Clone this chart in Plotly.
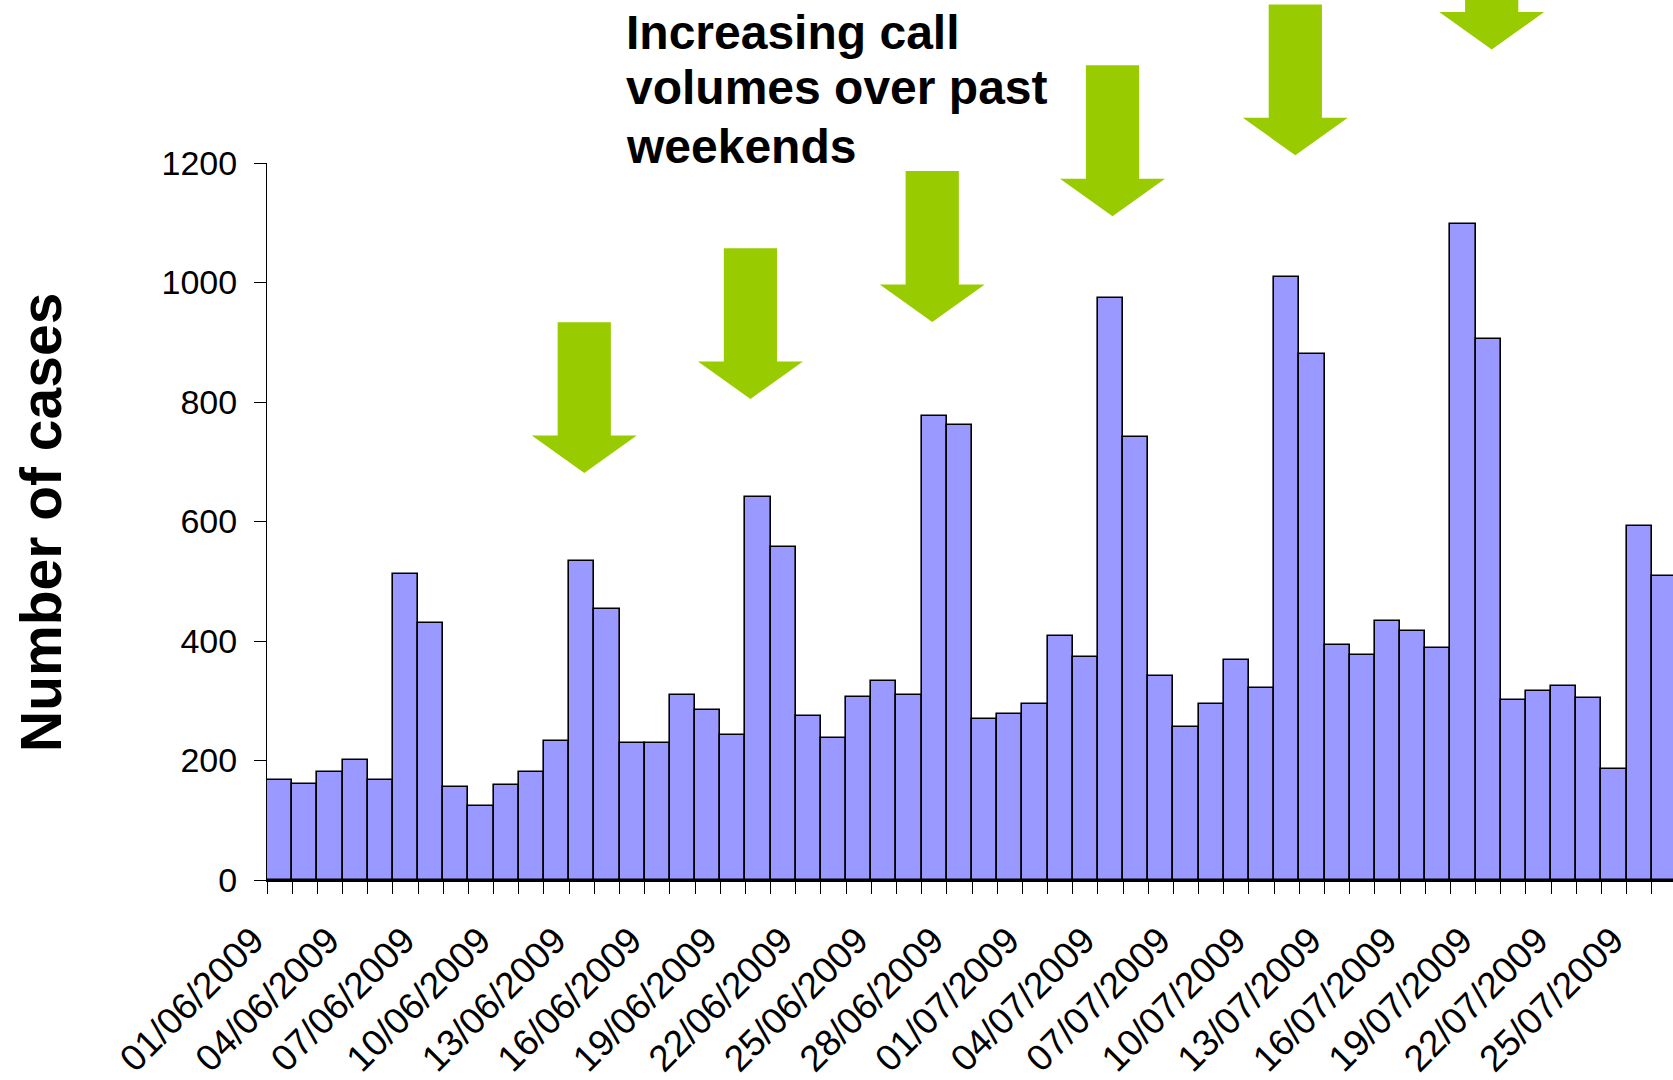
import pandas as pd
import plotly.graph_objects as go

# ---------------- data ----------------
dates = pd.date_range("2009-06-01", periods=56, freq="D")
cases = [168, 161, 181, 201, 168, 512, 430, 156, 124, 159,
         181, 233, 534, 453, 229, 229, 310, 285, 242, 641,
         557, 274, 238, 306, 333, 310, 777, 761, 269, 278,
         294, 408, 373, 974, 742, 342, 256, 294, 369, 321,
         1010, 881, 393, 376, 433, 416, 388, 1098, 906, 301,
         317, 325, 305, 185, 592, 508]
y_ticks = [0, 200, 400, 600, 800, 1000, 1200]
y_title = "Number of cases"
note_lines = ["Increasing call", "volumes over past", "weekends"]

# weekend arrows: position (days from 01/06) and tip height (cases units)
arrow_day = [12.6, 19.2, 26.42, 33.58, 40.84, 48.64]
arrow_tip = [681, 805, 934, 1111, 1213, 1390]

DAY_MS = 86400000
x_start = pd.Timestamp("2009-06-01")
x_end = x_start + pd.Timedelta(days=55.84)
Y_MAX = 1200

fig = go.Figure()
fig.add_trace(go.Bar(
    x=dates, y=cases,
    xperiod=DAY_MS, xperiodalignment="middle",
    width=DAY_MS,
    marker=dict(color="#9999FF", line=dict(color="black", width=1.6)),
    showlegend=False,
))

# block arrows
base_ms = x_start.value // 10**6
shaft_hw, head_hw = 1.057, 2.085      # days
shaft_len, head_h = 189.6, 62.8       # cases units
for d, tip in zip(arrow_day, arrow_tip):
    pts = [
        (d - shaft_hw, tip + head_h + shaft_len),
        (d + shaft_hw, tip + head_h + shaft_len),
        (d + shaft_hw, tip + head_h),
        (d + head_hw, tip + head_h),
        (d, tip),
        (d - head_hw, tip + head_h),
        (d - shaft_hw, tip + head_h),
    ]
    path = "M " + " L ".join(f"{base_ms + px * DAY_MS:.0f},{py / Y_MAX:.5f}" for px, py in pts) + " Z"
    fig.add_shape(type="path", path=path, xref="x", yref="paper",
                  fillcolor="#99CC00", line=dict(width=0), layer="above")

FONT = "Liberation Sans, Arial, sans-serif"

note_y = [1.1827, 1.1053, 1.0232]
for txt, yy in zip(note_lines, note_y):
    fig.add_annotation(text=txt, xref="paper", yref="paper", x=0.2539, y=yy,
                       xanchor="left", yanchor="middle", showarrow=False,
                       font=dict(family=FONT, size=48, color="black", weight="bold"))

fig.add_annotation(text=y_title, xref="paper", yref="paper", x=-0.1607, y=0.498,
                   xanchor="center", yanchor="middle", textangle=-90, showarrow=False,
                   font=dict(family=FONT, size=57, color="black", weight="bold"))

fig.update_layout(
    width=1673, height=1080,
    margin=dict(l=267, r=0, t=163, b=200),
    paper_bgcolor="white", plot_bgcolor="white",
    bargap=0,
    font=dict(family=FONT, color="black"),
    xaxis=dict(
        type="date", range=[x_start, x_end],
        tick0="2009-06-01", dtick=3 * DAY_MS, tickformat="%d/%m/%Y",
        tickangle=-45, ticks="outside", ticklen=12, tickcolor="black", tickwidth=1,
        tickfont=dict(family=FONT, size=37, color="black"),
        ticklabelshift=-14, ticklabelstandoff=10,
        showline=True, linecolor="black", linewidth=1.5,
        showgrid=False, zeroline=False,
        minor=dict(dtick=DAY_MS, tick0="2009-06-01", ticks="outside", ticklen=12,
                   tickcolor="black", tickwidth=1, showgrid=False),
    ),
    yaxis=dict(
        range=[0, Y_MAX], tickvals=y_ticks,
        ticks="outside", ticklen=12, tickcolor="black", tickwidth=1,
        tickfont=dict(family=FONT, size=34, color="black"),
        ticklabelstandoff=10,
        showline=True, linecolor="black", linewidth=1,
        showgrid=False, zeroline=False,
    ),
)

fig.write_html("out.html", config={"displayModeBar": False},
               post_script="document.body.style.margin='0';document.body.style.overflow='hidden';")
